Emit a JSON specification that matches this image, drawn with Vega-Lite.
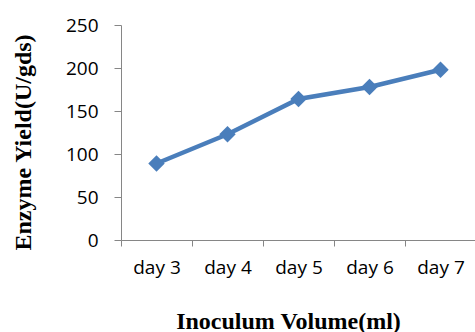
{
  "$schema": "https://vega.github.io/schema/vega-lite/v6.json",
  "width": 355,
  "height": 215,
  "autosize": "none",
  "padding": {"left": 121, "top": 25, "right": 0, "bottom": 92},
  "background": "white",
  "config": {"view": {"stroke": null}},
  "data": {"values": [
    {"day": "day 3", "yield": 89},
    {"day": "day 4", "yield": 123},
    {"day": "day 5", "yield": 164},
    {"day": "day 6", "yield": 178},
    {"day": "day 7", "yield": 198}
  ]},
  "mark": {"type": "line", "color": "#4a7ebb", "strokeWidth": 4.5,
    "point": {"shape": "diamond", "size": 270, "filled": true, "color": "#4a7ebb", "opacity": 1}},
  "encoding": {
    "x": {"field": "day", "type": "nominal", "sort": null,
      "scale": {"type": "band", "paddingInner": 0, "paddingOuter": 0},
      "axis": {"labelAngle": 0, "tickBand": "extent", "domainColor": "#868686", "tickColor": "#868686",
        "tickSize": 6, "labelPadding": 12, "labelFont": "Open Sans", "labelFontSize": 19, "labelColor": "#000",
        "title": "Inoculum Volume(ml)", "titleFont": "Liberation Serif", "titleFontWeight": "bold",
        "titleFontSize": 24, "titleColor": "#000", "titleX": 167, "titleY": 88, "titleAlign": "center",
        "titleBaseline": "alphabetic"}},
    "y": {"field": "yield", "type": "quantitative",
      "scale": {"domain": [0, 250], "nice": false},
      "axis": {"values": [0, 50, 100, 150, 200, 250], "grid": false, "domainColor": "#868686", "tickColor": "#868686",
        "tickSize": 7, "labelPadding": 16, "labelFont": "Open Sans", "labelFontSize": 19, "labelColor": "#000",
        "title": "Enzyme  Yield(U/gds)", "titleFont": "Liberation Serif", "titleFontWeight": "bold",
        "titleFontSize": 24, "titleColor": "#000", "titleX": -98, "titleY": 117, "titleAngle": -90,
        "titleAlign": "center", "titleBaseline": "middle"}}
  }
}
